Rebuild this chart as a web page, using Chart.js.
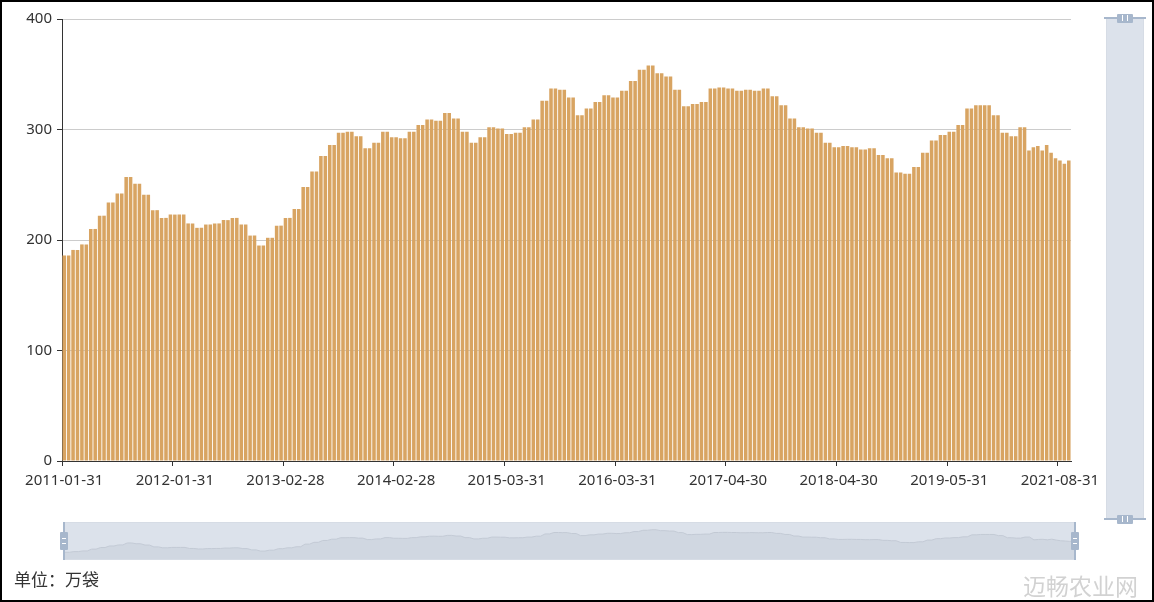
<!DOCTYPE html>
<html>
<head>
<meta charset="utf-8">
<script src="https://cdn.jsdelivr.net/npm/chart.js@4/dist/chart.umd.min.js"></script>
<style>
html,body{margin:0;padding:0;background:#fff;}
#wrap{position:relative;width:1154px;height:602px;overflow:hidden;font-family:"Noto Sans",sans-serif;background:#fff;}
#frame{position:absolute;left:0;top:0;width:1154px;height:602px;box-sizing:border-box;border:2px solid #000;pointer-events:none;z-index:20;}
canvas{position:absolute;display:block;}
.box{position:absolute;box-sizing:border-box;background:#dce2eb;border:1px solid #d6dce5;}
.hp{position:absolute;background:#a7b7cc;}
.wm{position:absolute;background:#fff;}
#unit{position:absolute;left:14px;top:570px;font-family:"Noto Sans CJK SC",sans-serif;font-size:17px;line-height:17px;color:#333;}
#brand{position:absolute;left:1023px;top:574px;font-family:"Noto Sans CJK SC",sans-serif;font-size:23px;line-height:23px;color:#d2d2d2;letter-spacing:0px;}
</style>
</head>
<body>
<div id="wrap">
  <canvas id="main" width="1154" height="602" style="left:0;top:0;"></canvas>

  <!-- vertical data zoom slider (right) -->
  <div class="box" style="left:1106px;top:18px;width:38px;height:502px;"></div>
  <div class="hp" style="left:1104px;top:17px;width:42px;height:2px;"></div>
  <div class="hp" style="left:1117px;top:14px;width:16px;height:9px;border-radius:1px;"></div>
  <div class="wm" style="left:1122px;top:15px;width:1px;height:6px;"></div>
  <div class="wm" style="left:1127px;top:15px;width:1px;height:6px;"></div>
  <div class="hp" style="left:1104px;top:518px;width:42px;height:2px;"></div>
  <div class="hp" style="left:1117px;top:515px;width:16px;height:9px;border-radius:1px;"></div>
  <div class="wm" style="left:1122px;top:516px;width:1px;height:6px;"></div>
  <div class="wm" style="left:1127px;top:516px;width:1px;height:6px;"></div>

  <!-- horizontal data zoom slider (bottom) -->
  <div class="box" style="left:64px;top:522px;width:1011px;height:38px;"></div>
  <canvas id="spark" width="1009" height="36" style="left:65px;top:523px;"></canvas>
  <div class="hp" style="left:63px;top:522px;width:2px;height:38px;"></div>
  <div class="hp" style="left:60px;top:532px;width:8px;height:18px;border-radius:1px;"></div>
  <div class="wm" style="left:62px;top:538px;width:4px;height:1px;"></div>
  <div class="wm" style="left:62px;top:543px;width:4px;height:1px;"></div>
  <div class="hp" style="left:1074px;top:522px;width:2px;height:38px;"></div>
  <div class="hp" style="left:1071px;top:532px;width:8px;height:18px;border-radius:1px;"></div>
  <div class="wm" style="left:1073px;top:538px;width:4px;height:1px;"></div>
  <div class="wm" style="left:1073px;top:543px;width:4px;height:1px;"></div>

  <div id="unit">单位：万袋</div>
  <div id="brand">迈畅农业网</div>
  <div id="frame"></div>
</div>
<script>
// ---- data ----
const tickLabels = ["2011-01-31","2012-01-31","2013-02-28","2014-02-28","2015-03-31",
                    "2016-03-31","2017-04-30","2018-04-30","2019-05-31","2021-08-31"];
const labelEvery = 25;
const values = [
186,186,191,191,196,196,210,210,222,222,234,234,242,242,257,257,251,251,241,241,
227,227,220,220,223,223,223,223,215,215,211,211,214,214,215,215,218,218,220,220,
214,214,204,204,195,195,202,202,213,213,220,220,228,228,248,248,262,262,276,276,
286,286,297,297,298,298,294,294,283,283,288,288,298,298,293,293,292,292,298,298,
304,304,309,309,308,308,315,315,310,310,298,298,288,288,293,293,302,302,301,301,
296,296,297,297,302,302,309,309,326,326,337,337,336,336,329,329,313,313,319,319,
325,325,331,331,329,329,335,335,344,344,354,354,358,358,351,351,348,348,336,336,
321,321,323,323,325,325,337,337,338,338,337,337,335,335,336,336,335,335,337,337,
330,330,322,322,310,310,302,302,301,301,297,297,288,288,284,284,285,285,284,284,
282,282,283,283,277,277,274,274,261,261,260,260,266,266,279,279,290,290,295,295,
298,298,304,304,319,319,322,322,322,322,313,313,297,297,294,294,302,302,
281,284,285,281,286,279,274,272,269,272
];
const categories = values.map((v, i) => (i % labelEvery === 0 ? (tickLabels[i / labelEvery] || "") : ""));
const yTicks = { min: 0, max: 400, step: 100 };

const FONT = { family: "Noto Sans", size: 15 };
const TEXT = "#333";

new Chart(document.getElementById("main"), {
  type: "bar",
  data: {
    labels: categories,
    datasets: [{
      data: values,
      backgroundColor: "#d8a462",
      borderWidth: 0,
      barPercentage: 0.8,
      categoryPercentage: 1.0
    }]
  },
  options: {
    responsive: false,
    animation: false,
    events: [],
    layout: { padding: { left: 0, top: 19, right: 83, bottom: 101 } },
    plugins: { legend: { display: false }, tooltip: { enabled: false } },
    scales: {
      x: {
        offset: true,
        grid: {
          display: true, drawOnChartArea: false, drawTicks: true, tickLength: 5, offset: true,
          color: (c) => (c.index !== undefined && c.index % labelEvery === 0 ? TEXT : "rgba(0,0,0,0)")
        },
        border: { display: true, color: TEXT, width: 1 },
        ticks: {
          autoSkip: false, maxRotation: 0, minRotation: 0, padding: 6, color: TEXT, font: FONT,
          callback: function (v, i) { return categories[i]; }
        },
        afterFit: (s) => { s.height = 40; }
      },
      y: {
        min: yTicks.min, max: yTicks.max,
        ticks: { stepSize: yTicks.step, padding: 5, color: TEXT, font: FONT },
        grid: {
          color: (c) => (c.tick && c.tick.value === 0 ? "rgba(0,0,0,0)" : "#cccccc"),
          tickColor: TEXT, tickLength: 5, drawTicks: true
        },
        border: { display: true, color: TEXT, width: 1 },
        afterFit: (s) => { s.width = 62; }
      }
    }
  }
});

// data shadow of the bottom slider (extent padded by 30%, as the slider does)
const vMin = Math.min(...values), vMax = Math.max(...values);
const pad = (vMax - vMin) * 0.3;
new Chart(document.getElementById("spark"), {
  type: "line",
  data: {
    labels: categories,
    datasets: [{
      data: values,
      borderColor: "#c3cad5",
      borderWidth: 1,
      backgroundColor: "#d0d7e1",
      fill: "start",
      pointRadius: 0,
      tension: 0
    }]
  },
  options: {
    responsive: false,
    animation: false,
    events: [],
    layout: { padding: 0 },
    plugins: { legend: { display: false }, tooltip: { enabled: false } },
    scales: {
      x: { display: false, offset: false },
      y: { display: false, min: vMin - pad, max: vMax + pad }
    }
  }
});
</script>
</body>
</html>
